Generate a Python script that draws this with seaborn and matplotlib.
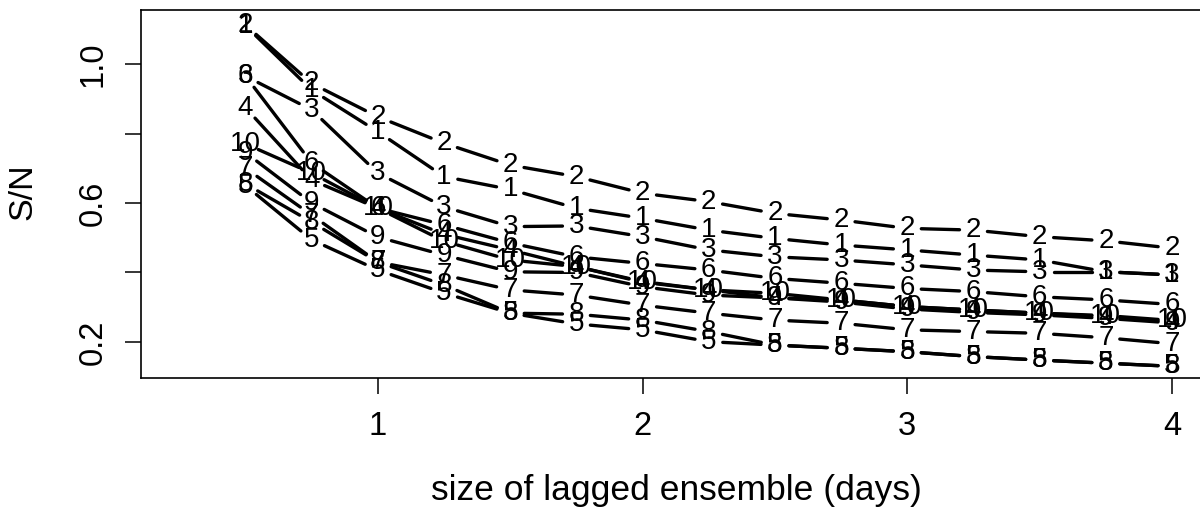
import numpy as np
import pandas as pd
import matplotlib.pyplot as plt
import seaborn as sns

# ── Data: S/N against size of lagged ensemble, one list per member ──
LAG_DAYS = [0.5, 0.75, 1.0, 1.25, 1.5, 1.75, 2.0, 2.25,
            2.5, 2.75, 3.0, 3.25, 3.5, 3.75, 4.0]

SN_1 = [1.110, 0.925, 0.805, 0.676, 0.639, 0.585, 0.556, 0.522,
        0.498, 0.479, 0.465, 0.450, 0.436, 0.402, 0.393]
SN_2 = [1.112, 0.944, 0.848, 0.772, 0.709, 0.676, 0.628, 0.604,
        0.570, 0.551, 0.527, 0.522, 0.503, 0.491, 0.470]
SN_3 = [0.965, 0.868, 0.686, 0.589, 0.532, 0.534, 0.503, 0.465,
        0.445, 0.436, 0.422, 0.407, 0.402, 0.402, 0.393]
SN_4 = [0.874, 0.666, 0.585, 0.510, 0.465, 0.417, 0.372, 0.350,
        0.327, 0.321, 0.302, 0.292, 0.283, 0.273, 0.258]
SN_5 = [0.650, 0.494, 0.407, 0.341, 0.283, 0.252, 0.235, 0.201,
        0.191, 0.182, 0.172, 0.158, 0.148, 0.139, 0.130]
SN_6 = [0.965, 0.715, 0.585, 0.537, 0.485, 0.445, 0.426, 0.407,
        0.383, 0.369, 0.354, 0.345, 0.330, 0.321, 0.308]
SN_7 = [0.700, 0.565, 0.430, 0.393, 0.350, 0.335, 0.306, 0.283,
        0.263, 0.254, 0.235, 0.230, 0.225, 0.212, 0.195]
SN_8 = [0.655, 0.545, 0.430, 0.364, 0.283, 0.280, 0.263, 0.230,
        0.191, 0.182, 0.172, 0.158, 0.148, 0.139, 0.130]
SN_9 = [0.745, 0.600, 0.502, 0.450, 0.402, 0.400, 0.359, 0.335,
        0.327, 0.315, 0.295, 0.285, 0.278, 0.268, 0.255]
SN_10 = [0.770, 0.686, 0.585, 0.490, 0.436, 0.417, 0.374, 0.350,
         0.340, 0.321, 0.302, 0.292, 0.283, 0.276, 0.262]

MEMBERS = ['1', '2', '3', '4', '5', '6', '7', '8', '9', '10']
SERIES = [SN_1, SN_2, SN_3, SN_4, SN_5, SN_6, SN_7, SN_8, SN_9, SN_10]

X_TICKS = [1, 2, 3, 4]
Y_TICKS = [0.2, 0.4, 0.6, 0.8, 1.0]
Y_TICK_LABELS = ['0.2', '', '0.6', '', '1.0']

# ── Style ─────────────────────────────
sns.set_theme(style='white')
plt.rcParams['font.family'] = ['Liberation Sans', 'DejaVu Sans']
plt.rcParams['text.color'] = 'black'

W, H = 1200, 508
fig = plt.figure(figsize=(W / 100, H / 100), dpi=100)
fig.patch.set_facecolor('white')
ax = fig.add_axes([141 / W, 130 / H, 1071 / W, 368 / H])
ax.set_xlim(0.105, 4.151)
ax.set_ylim(0.0964, 1.1554)

# ── Segments with gaps around the number symbols (R type="b") ──
GAP = 14  # pixels
to_px = ax.transData
to_data = ax.transData.inverted()
rows = []
for name, vals in zip(MEMBERS, SERIES):
    pts = to_px.transform(np.column_stack([LAG_DAYS, vals]))
    for k in range(len(pts) - 1):
        d = pts[k + 1] - pts[k]
        length = np.hypot(*d)
        if length <= 2 * GAP:
            continue
        u = d / length
        q = to_data.transform([pts[k] + u * GAP, pts[k + 1] - u * GAP])
        for xx, yy in q:
            rows.append({'member': name, 'seg': f'{name}-{k}',
                         'x': xx, 'y': yy})
seg = pd.DataFrame(rows)

sns.lineplot(data=seg, x='x', y='y', units='seg', estimator=None,
             sort=False, color='black', lw=2.4, legend=False, ax=ax)

# ── Number symbols ────────────────────
for name, vals in zip(MEMBERS, SERIES):
    for xx, yy in zip(LAG_DAYS, vals):
        ax.text(xx, yy, name, ha='center', va='center',
                fontsize=20, color='black')

# ── Axes ──────────────────────────────
for s in ax.spines.values():
    s.set_color('black')
    s.set_linewidth(1.2)

ax.set_xticks(X_TICKS)
ax.set_xticklabels([str(t) for t in X_TICKS], fontsize=23.5)
ax.set_yticks(Y_TICKS)
ax.set_yticklabels(Y_TICK_LABELS, fontsize=23.5, rotation=90, va='center')
ax.tick_params(axis='both', which='both', bottom=True, left=True,
               length=11.5, width=1.1, color='black', labelcolor='black')
ax.tick_params(axis='x', pad=12)
ax.tick_params(axis='y', pad=12)

ax.set_xlabel('size of lagged ensemble (days)', fontsize=25.5, color='black')
ax.set_ylabel('S/N', fontsize=24.5, color='black')
ax.xaxis.label.set_va('baseline')
ax.xaxis.set_label_coords(0.4995, -0.331)
ax.yaxis.set_label_coords(-0.096, 0.507)

plt.savefig('out.png', dpi=100, facecolor='white')
plt.close()
